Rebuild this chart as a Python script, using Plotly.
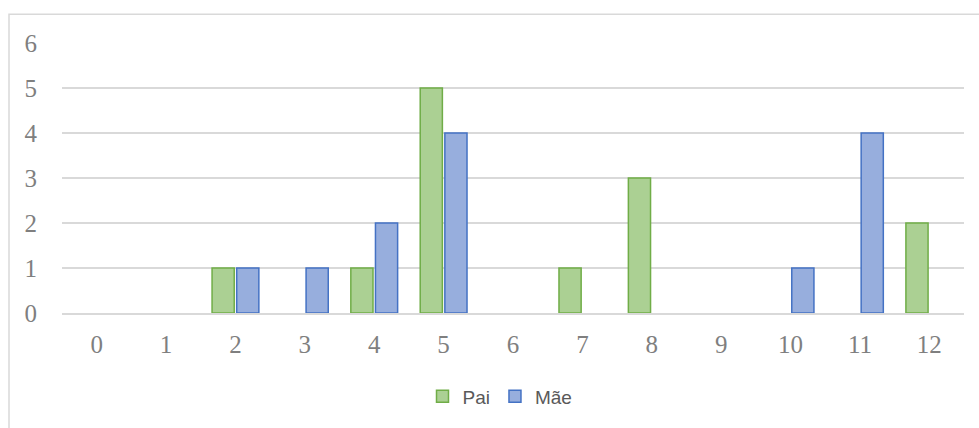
import plotly.graph_objects as go

# Age categories and counts per parent
categories = ["0", "1", "2", "3", "4", "5", "6", "7", "8", "9", "10", "11", "12"]
pai = [0, 0, 1, 0, 1, 5, 0, 1, 3, 0, 0, 0, 2]
mae = [0, 0, 1, 1, 2, 4, 0, 0, 0, 0, 1, 4, 0]
y_ticks = [0, 1, 2, 3, 4, 5, 6]

W, H = 979, 428
L, R, T, B = 62, 15, 43, 113
pw, ph = W - L - R, H - T - B

SERIF = "Liberation Serif, Times New Roman, serif"
SANS = "Liberation Sans, Arial, sans-serif"


def heights(values):
    # empty categories get no bar at all (no outline stub on the axis)
    return [v if v else None for v in values]


fig = go.Figure()
fig.add_trace(go.Bar(
    x=categories, y=heights(pai), name="Pai",
    marker=dict(color="#ABD093", line=dict(color="#70AD47", width=1.5)),
))
fig.add_trace(go.Bar(
    x=categories, y=heights(mae), name="Mãe",
    marker=dict(color="#97AEDD", line=dict(color="#4472C4", width=1.5)),
))


def px_x(p):
    return (p - L) / pw


def px_y(p):
    return 1 - (p - T) / ph


# Outer chart frame
fig.add_shape(type="rect", xref="paper", yref="paper",
              x0=px_x(9), x1=px_x(1000), y0=px_y(460), y1=px_y(14),
              line=dict(color="#D9D9D9", width=1.5), fillcolor="rgba(0,0,0,0)",
              layer="below")

fig.update_layout(
    width=W, height=H,
    margin=dict(l=L, r=R, t=T, b=B),
    paper_bgcolor="white", plot_bgcolor="white",
    barmode="group", bargap=0.29, bargroupgap=0.1,
    showlegend=True,
    legend=dict(orientation="h", x=px_x(500), xanchor="center",
                y=px_y(399), yanchor="middle",
                font=dict(family=SANS, size=19, color="#595959"),
                itemwidth=30, traceorder="normal"),
    xaxis=dict(
        type="category", range=[-0.5, 12.5], showgrid=False, zeroline=False,
        showline=True, linecolor="#D9D9D9", linewidth=1.5,
        ticks="", ticklabelstandoff=8,
        tickfont=dict(family=SERIF, size=25, color="#7F7F7F"),
    ),
    yaxis=dict(
        range=[0, 6], tickvals=y_ticks, showgrid=True, gridcolor="#D9D9D9", gridwidth=1.5,
        zeroline=False, showline=False, ticks="", ticklabelstandoff=24,
        tickfont=dict(family=SERIF, size=25, color="#7F7F7F"),
    ),
)

fig.write_html("out.html")
